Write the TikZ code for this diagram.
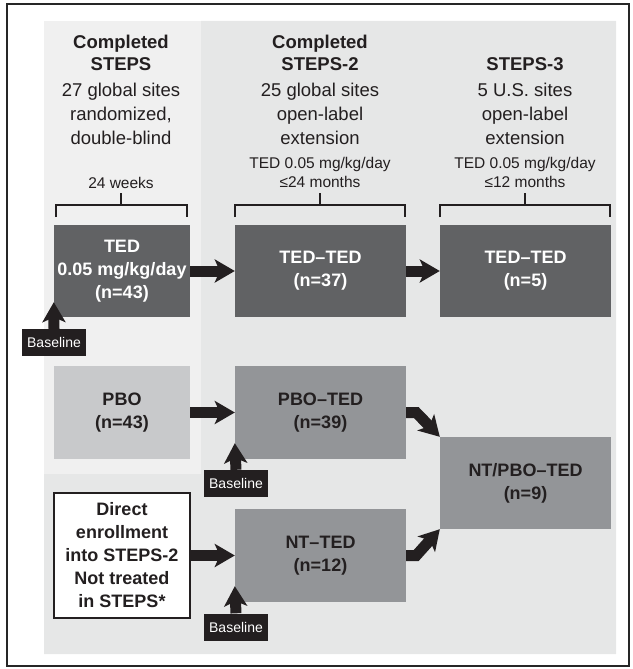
\documentclass[tikz,border=0pt]{standalone}
\usepackage{fontspec}
\setmainfont{Liberation Sans}
\usetikzlibrary{arrows.meta}

\definecolor{ink}{HTML}{231F20}
\definecolor{lightbg}{HTML}{F0F0F0}
\definecolor{darkbg}{HTML}{E6E7E7}
\definecolor{tedfill}{HTML}{616264}
\definecolor{pbofill}{HTML}{C8C9CB}
\definecolor{midfill}{HTML}{939598}

\tikzset{
    box/.style={rectangle, inner sep=0pt, align=center, font=\fontsize{18}{23}\selectfont\bfseries},
    tedbox/.style={box, fill=tedfill, text=white},
    midbox/.style={box, fill=midfill, text=ink},
    basebox/.style={rectangle, fill=ink, text=white, minimum width=64pt, minimum height=27pt, inner sep=0pt, font=\fontsize{14}{16}\selectfont},
    bigarrow/.style={ink, line width=11pt, -{Stealth[length=20pt, width=23pt, inset=5pt]}},
    bracket/.style={ink, line width=2pt},
    titletext/.style={anchor=north, align=center, inner sep=0pt, text=ink, font=\fontsize{18.5}{22}\selectfont\bfseries},
    sitetext/.style={anchor=north, align=center, inner sep=0pt, text=ink, font=\fontsize{18.5}{24}\selectfont},
    dosetext/.style={anchor=north, align=center, inner sep=0pt, text=ink, font=\fontsize{15.5}{19}\selectfont}
}

\begin{document}
\begin{tikzpicture}[x=1pt, y=-1pt]
    \useasboundingbox (0,0) rectangle (632,669);

    % background panels
    \fill[darkbg] (201,21) -- (616,21) -- (616,654) -- (44,654) -- (44,474) -- (201,474) -- cycle;
    \fill[lightbg] (44,21) rectangle (201,474);
    \draw[black!85, line width=1.2pt] (7,4) rectangle (629,666);

    % column headers
    \node[titletext] (title1) at (121,35) {Completed\\STEPS};
    \node[titletext] (title2) at (320,35) {Completed\\STEPS-2};
    \node[titletext] (title3) at (525,57) {STEPS-3};
    \node[sitetext] (sites1) at (121,83) {27 global sites\\randomized,\\double-blind};
    \node[sitetext] (sites2) at (320,83) {25 global sites\\open-label\\extension};
    \node[sitetext] (sites3) at (525,83) {5 U.S. sites\\open-label\\extension};
    \node[dosetext] (dose1) at (121,177) {24 weeks};
    \node[dosetext] (dose2) at (320,157) {TED 0.05 mg/kg/day\\≤24 months};
    \node[dosetext] (dose3) at (525,157) {TED 0.05 mg/kg/day\\≤12 months};

    % brackets
    \draw[bracket] (56,217) -- (56,205) -- (187,205) -- (187,217);
    \draw[bracket] (121,205) -- (121,193);
    \draw[bracket] (235,217) -- (235,205) -- (405,205) -- (405,217);
    \draw[bracket] (320,205) -- (320,193);
    \draw[bracket] (440,217) -- (440,205) -- (610,205) -- (610,217);
    \draw[bracket] (525,205) -- (525,193);

    % arms
    \node[tedbox, minimum width=136pt, minimum height=92pt] (ted1) at (122,271) {TED\\0.05 mg/kg/day\\(n=43)};
    \node[tedbox, minimum width=171pt, minimum height=92pt] (ted2) at (320.5,271) {TED--TED\\(n=37)};
    \node[tedbox, minimum width=171pt, minimum height=92pt] (ted3) at (525.5,271) {TED--TED\\(n=5)};
    \node[box, fill=pbofill, text=ink, minimum width=136pt, minimum height=93pt] (pbo) at (122,412.5) {PBO\\(n=43)};
    \node[midbox, minimum width=171pt, minimum height=93pt] (pboted) at (320.5,412.5) {PBO--TED\\(n=39)};
    \node[box, fill=white, draw=ink, line width=2pt, text=ink, minimum width=136pt, minimum height=125pt] (direct) at (122,555.5) {Direct\\enrollment\\into STEPS-2\\Not treated\\in STEPS*};
    \node[midbox, minimum width=171pt, minimum height=93pt] (ntted) at (320.5,555.5) {NT--TED\\(n=12)};
    \node[midbox, minimum width=171pt, minimum height=92pt] (ntpbo) at (525.5,483) {NT/PBO--TED\\(n=9)};

    % baseline markers
    \node[basebox] (base1) at (54,342.5) {Baseline};
    \node[basebox] (base2) at (236,483.5) {Baseline};
    \node[basebox] (base3) at (236,627) {Baseline};

    % arrows
    \draw[bigarrow] (ted1) -- (ted2);
    \draw[bigarrow] (ted2) -- (ted3);
    \draw[bigarrow] (pbo) -- (pboted);
    \draw[bigarrow] (direct) -- (ntted);
    \draw[bigarrow] (pboted.east) -- ++(10,0) -- (ntpbo.north west);
    \draw[bigarrow] (ntted.east) -- ++(10,0) -- (ntpbo.south west);
    \draw[bigarrow] (base1.north) -- ([yshift=15pt]ted1.south west);
    \draw[bigarrow] (base2.north) -- ([yshift=16pt]pboted.south west);
    \draw[bigarrow] (base3.north) -- ([yshift=16pt]ntted.south west);
\end{tikzpicture}
\end{document}
